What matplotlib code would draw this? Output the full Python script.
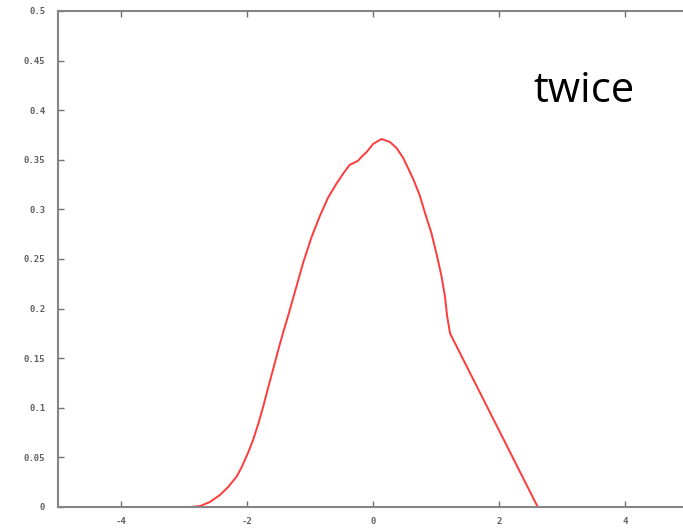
import matplotlib
matplotlib.use("Agg")
import matplotlib.pyplot as plt

# Data
x_vals = [-3.11, -2.90, -2.74, -2.59, -2.43, -2.30, -2.16, -2.085, -1.98, -1.90,
          -1.82, -1.743, -1.69, -1.58, -1.505, -1.43, -1.346, -1.27, -1.11,
          -0.976, -0.84, -0.713, -0.58, -0.475, -0.37, -0.30, -0.24, -0.184, -0.10,
          0.00, 0.135, 0.265, 0.37, 0.476, 0.529, 0.64, 0.74, 0.82, 0.925,
          1.01, 1.083, 1.14, 1.172, 1.22, 2.61]
y_vals = [0.000, 0.000, 0.001, 0.005, 0.012, 0.020, 0.031, 0.040, 0.055, 0.068,
          0.084, 0.101, 0.114, 0.140, 0.158, 0.175, 0.193, 0.210, 0.246,
          0.272, 0.294, 0.312, 0.326, 0.336, 0.345, 0.347, 0.349, 0.353, 0.358,
          0.366, 0.371, 0.368, 0.362, 0.352, 0.345, 0.330, 0.314, 0.297, 0.276,
          0.254, 0.233, 0.212, 0.193, 0.175, 0.000]
x_ticks = [-4, -2, 0, 2, 4]
x_tick_labels = ["-4", "-2", "0", "2", "4"]
y_ticks = [0, 0.05, 0.1, 0.15, 0.2, 0.25, 0.3, 0.35, 0.4, 0.45, 0.5]
y_tick_labels = ["0", "0.05", "0.1", "0.15", "0.2", "0.25", "0.3", "0.35", "0.4", "0.45", "0.5"]
annotation = "twice"

W, H = 683, 528
fig = plt.figure(figsize=(W / 100, H / 100), dpi=100)
fig.patch.set_facecolor("white")
# axes: x=-5 at px 57.7, x=5 at px 688.5 (cropped), y=0 at px 507, y=0.5 at px 11
left = 57.7 / W
width = (688.5 - 57.7) / W
bottom = (H - 507) / H
height = (507 - 11) / H
ax = fig.add_axes([left, bottom, width, height])

ax.plot(x_vals, y_vals, color="#ff3a3a", lw=1.4, solid_joinstyle="round",
        antialiased=True)

ax.set_xlim(-5, 5)
ax.set_ylim(0, 0.5)
ax.set_xticks(x_ticks)
ax.set_xticklabels(x_tick_labels)
ax.set_yticks(y_ticks)
ax.set_yticklabels(y_tick_labels)

for s in ax.spines.values():
    s.set_color("#858585")
    s.set_linewidth(1.5)
ax.tick_params(direction="in", length=4, width=1, color="#707070",
               top=True, right=True, labelsize=6.5, labelcolor="#606060")
ax.tick_params(axis="x", pad=7)
ax.tick_params(axis="y", pad=9)
for lab in ax.get_xticklabels() + ax.get_yticklabels():
    lab.set_family("DejaVu Sans Mono")
    lab.set_fontweight("bold")

fig.text(533 / W, 1 - 91 / H, annotation, fontsize=30, family="Open Sans",
         color="black", ha="left", va="center")

fig.savefig("out.png", dpi=100)
